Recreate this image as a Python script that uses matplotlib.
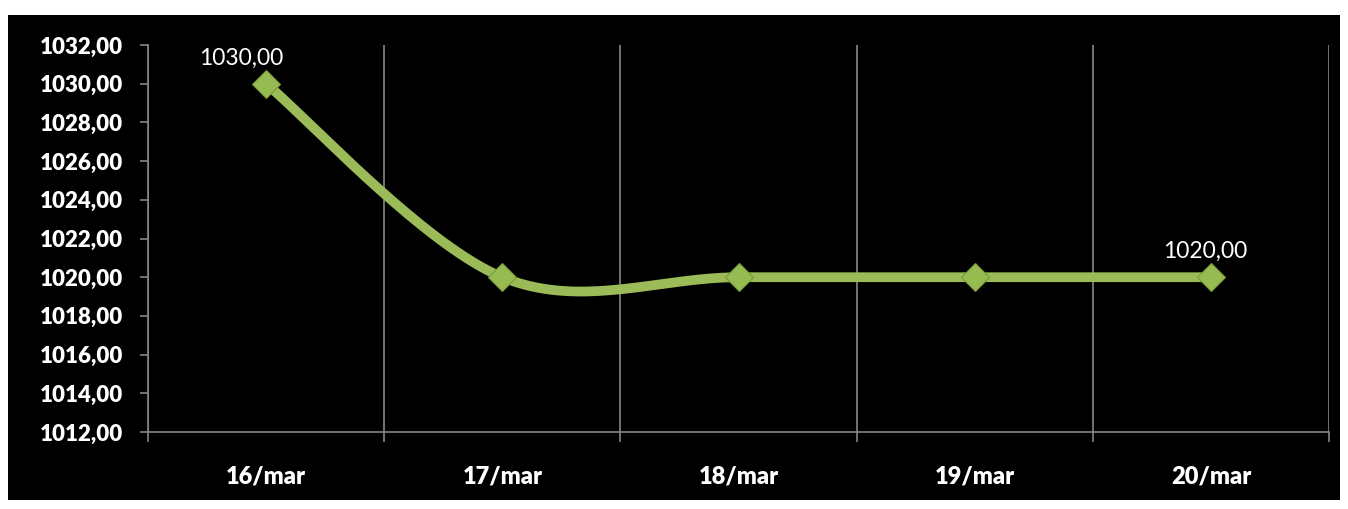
import numpy as np
import matplotlib.pyplot as plt
from matplotlib.patches import Rectangle

# chart data
dates = ['16/mar', '17/mar', '18/mar', '19/mar', '20/mar']
values = [1030.0, 1020.0, 1020.0, 1020.0, 1020.0]
yticks = np.arange(1012, 1033, 2)

green = '#9BBB59'
grey = '#868686'
font = 'Lato'


def smooth(xs, ys, n=40):
    # Catmull-Rom style bezier smoothing (like the spreadsheet "smoothed line")
    px = np.concatenate([[xs[0]], xs, [xs[-1]]])
    py = np.concatenate([[ys[0]], ys, [ys[-1]]])
    ox, oy = [], []
    t = np.linspace(0, 1, n)
    for i in range(1, len(px) - 2):
        p0 = np.array([px[i], py[i]])
        p3 = np.array([px[i + 1], py[i + 1]])
        c1 = p0 + (np.array([px[i + 1], py[i + 1]]) - np.array([px[i - 1], py[i - 1]])) / 6
        c2 = p3 - (np.array([px[i + 2], py[i + 2]]) - np.array([px[i], py[i]])) / 6
        b = ((1 - t) ** 3)[:, None] * p0 + (3 * (1 - t) ** 2 * t)[:, None] * c1 \
            + (3 * (1 - t) * t ** 2)[:, None] * c2 + (t ** 3)[:, None] * p3
        ox.extend(b[:, 0])
        oy.extend(b[:, 1])
    return np.array(ox), np.array(oy)


W, H = 1348, 509
fig = plt.figure(figsize=(W / 100, H / 100), dpi=100, facecolor='white')
fig.patches.append(Rectangle((8 / W, 1 - 500 / H), 1332 / W, 485 / H,
                             transform=fig.transFigure, facecolor='black',
                             edgecolor='none', zorder=-10))

ax = fig.add_axes([148 / W, 1 - 432 / H, 1181 / W, 387 / H])
ax.set_facecolor('black')

x = np.arange(len(dates))
sx, sy = smooth(x.astype(float), np.array(values))
ax.plot(sx, sy, color=green, lw=7, solid_capstyle='butt', zorder=3)
ax.plot(x, values, 'D', ms=14, color='#96BB50', mec='#7A9A3A', mew=0.8, zorder=4)

# data labels on first and last point (first one nudged left, as in the original)
label_shift = {0: -18, len(values) - 1: -4}
for i, dx in label_shift.items():
    ax.annotate(f'{values[i]:.2f}'.replace('.', ','), (x[i], values[i]),
                xytext=(dx, 11), textcoords='offset points', ha='center',
                va='bottom', color='white', fontsize=16.5, family=font)

ax.set_xlim(-0.5, len(dates) - 0.5)
ax.set_ylim(1012, 1032)
ax.set_yticks(yticks)
ax.set_yticklabels([f'{v:.2f}'.replace('.', ',') for v in yticks])
ax.set_xticks(x)
ax.set_xticklabels(dates)
ax.set_xticks(np.arange(-0.5, len(dates), 1), minor=True)

for lab in ax.get_yticklabels():
    lab.set_family(font)
    lab.set_fontweight('heavy')
    lab.set_fontsize(16)
    lab.set_color('white')
for lab in ax.get_xticklabels():
    lab.set_family(font)
    lab.set_fontweight('heavy')
    lab.set_fontsize(17)
    lab.set_color('white')

ax.tick_params(axis='y', length=6, width=1.2, color=grey, pad=12)
ax.tick_params(axis='x', which='major', length=0, pad=24)
ax.tick_params(axis='x', which='minor', length=7, width=1.2, color=grey)
ax.grid(axis='x', which='minor', color=grey, lw=1.2)

for s in ['top', 'right']:
    ax.spines[s].set_visible(False)
for s in ['left', 'bottom']:
    ax.spines[s].set_color(grey)
    ax.spines[s].set_linewidth(1.2)

fig.savefig('out.png', dpi=100, facecolor='white')
